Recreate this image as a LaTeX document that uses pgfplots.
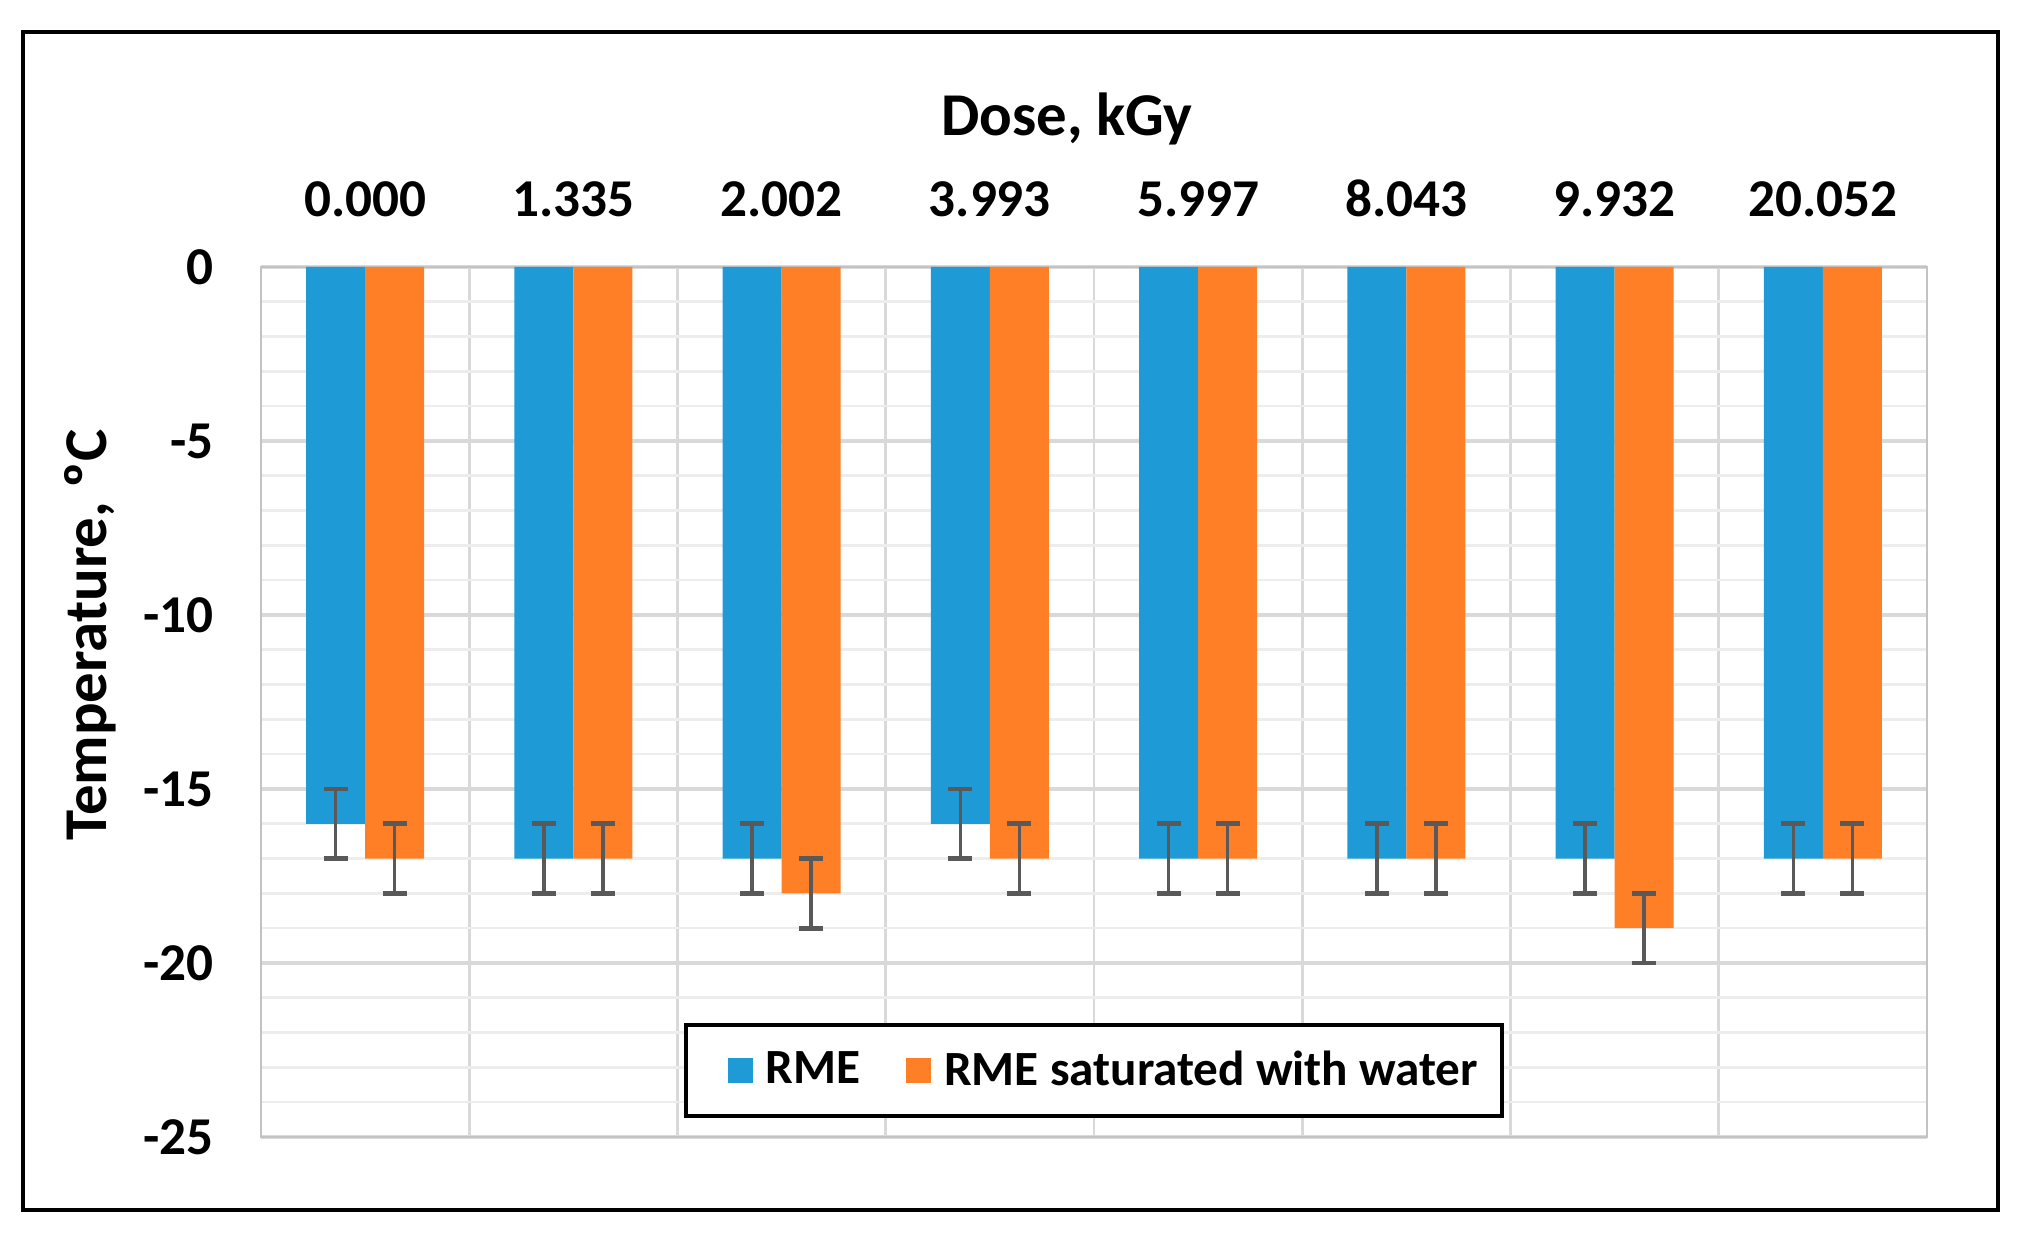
\documentclass[border=0pt]{standalone}
\usepackage{pgfplots}
\pgfplotsset{compat=1.18}
\usepackage{fontspec}
\setmainfont{Carlito}

\definecolor{rmeblue}{HTML}{1E9BD7}
\definecolor{rmeorange}{HTML}{FF7F27}
\definecolor{errgray}{HTML}{595959}
\definecolor{gridmaj}{HTML}{D9D9D9}
\definecolor{gridmin}{HTML}{EDEDED}

\newcommand\tickfont{\fontsize{13.3pt}{16pt}\selectfont\bfseries}
\newcommand\legfont{\fontsize{12.3pt}{15pt}\selectfont\bfseries}
\newcommand\titlefont{\fontsize{15.2pt}{18pt}\selectfont\bfseries}

\begin{document}
\begin{tikzpicture}
\useasboundingbox (0pt,0pt) rectangle (505.25pt,312pt);
\draw[line width=0.9pt] (5.75pt,9.5pt) rectangle (499.5pt,304pt);
\begin{axis}[
  at={(65.25pt,27.75pt)}, anchor=south west,
  width=416.5pt, height=217.5pt, scale only axis,
  ybar=0pt, bar width=14.75pt,
  xmin=-0.5, xmax=7.5, ymin=-25, ymax=0,
  xtick={0,...,7},
  xticklabels={0.000,1.335,2.002,3.993,5.997,8.043,9.932,20.052},
  xticklabel pos=right,
  xticklabel style={font=\tickfont, yshift=9pt},
  minor xtick={0.5,1.5,...,6.5},
  xminorgrids,
  ytick={-25,-20,...,0},
  yticklabels={-25,-20,-15,-10,-5,0},
  yticklabel style={font=\tickfont, anchor=east, xshift=-8.3pt},
  minor ytick={-24,-23,...,-1},
  ymajorgrids, yminorgrids,
  major grid style={draw=gridmaj, line width=0.8pt},
  minor grid style={draw=gridmin, line width=0.65pt},
  minor x grid style={draw=gridmaj, line width=0.65pt},
  axis line style={draw=gridmaj!90!black, line width=0.7pt},
  major tick length=0pt, minor tick length=0pt,
  legend columns=2,
  legend style={at={(0.5,0.076)}, anchor=center, draw=black, line width=1pt,
    font=\legfont, inner xsep=4pt, inner ysep=4.3pt,
    /tikz/every even column/.append style={column sep=3pt}},
  legend image code/.code={%
    \path (-6.4pt,0pt) (7.55pt,0pt);
    \fill[#1] (0pt,-3.1pt) rectangle (6.25pt,3.1pt);},
  error bars/y dir=both, error bars/y fixed=1,
  error bars/error bar style={draw=errgray, line width=0.85pt},
  error bars/error mark options={draw=errgray, line width=1.2pt, mark size=3pt, rotate=90},
]
% RME
\addplot[fill=rmeblue, draw=none] coordinates {
  (0,-16) (1,-17) (2,-17) (3,-16) (4,-17) (5,-17) (6,-17) (7,-17)};
% RME saturated with water
\addplot[fill=rmeorange, draw=none] coordinates {
  (0,-17) (1,-17) (2,-18) (3,-17) (4,-17) (5,-17) (6,-19) (7,-17)};
\legend{RME, RME saturated with water}
\end{axis}
\node[font=\titlefont] at (266.75pt,282.25pt) {Dose, kGy};
\node[font=\titlefont, rotate=90] at (22.5pt,153.25pt) {Temperature, ºC};
\end{tikzpicture}
\end{document}
